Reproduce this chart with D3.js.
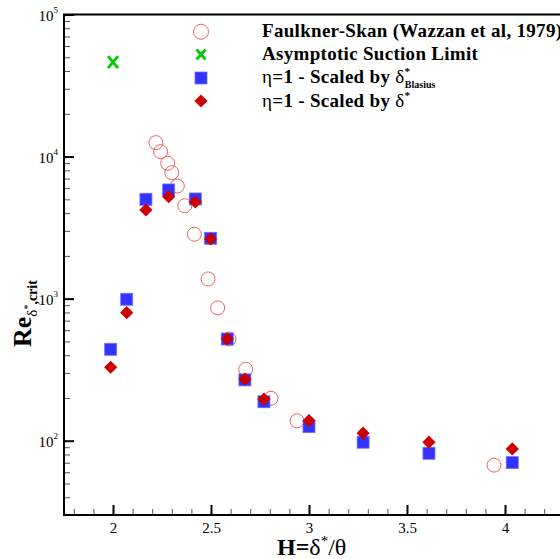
<!DOCTYPE html>
<html>
<head>
<meta charset="utf-8">
<script src="https://cdn.jsdelivr.net/npm/d3@7"></script>
<style>
  html, body { margin: 0; padding: 0; background: #fff; }
  svg { display: block; }
  text { font-family: "Liberation Serif", "Times New Roman", serif; }
</style>
</head>
<body>
<svg id="chart" width="560" height="559"></svg>
<script>
// ---- Data ----
// Faulkner-Skan (Wazzan et al, 1979)
const fsH  = [2.219, 2.243, 2.279, 2.300, 2.328, 2.366, 2.415, 2.485, 2.534, 2.592, 2.677, 2.806, 2.939, 3.944];
const fsRe = [12530, 10830, 8970, 7700, 6210, 4510, 2840, 1376, 861, 520, 318, 199, 138, 67.3];
// Asymptotic suction limit
const asH  = [2.0];
const asRe = [46279];
// eta=1 - scaled by delta*_Blasius
const blH  = [1.988, 2.070, 2.168, 2.284, 2.420, 2.498, 2.583, 2.673, 2.770, 3.000, 3.276, 3.612, 4.037];
const blRe = [440, 990, 5006, 5820, 5030, 2660, 520, 268, 188, 125.6, 97.6, 81.6, 70.1];
// eta=1 - scaled by delta*
const dsH  = [1.988, 2.070, 2.168, 2.284, 2.420, 2.498, 2.583, 2.673, 2.770, 3.000, 3.276, 3.612, 4.037];
const dsRe = [329, 797, 4210, 5220, 4790, 2630, 520, 271, 196, 138.6, 113, 97.6, 87.5];

const xTicks = [2, 2.5, 3, 3.5, 4];
const xTickLabels = ["2", "2.5", "3", "3.5", "4"];
const yTicks = [1e2, 1e3, 1e4, 1e5];
const yTickExp = ["2", "3", "4", "5"];

// ---- Layout ----
const svg = d3.select("#chart");
const L = 64, T = 14.5, B = 515;
const x = d3.scaleLinear().domain([1.75, 4.3]).range([L, L + 2.55 * 196]);
const y = d3.scaleLog().domain([30, 1e5]).range([B, T]);
const R = x(4.3);

// minor ticks
const xMinor = d3.range(18, 43).map(v => v / 10).filter(v => xTicks.indexOf(v) < 0);
const yMinor = [];
[10, 100, 1000, 10000].forEach(d => { for (let k = 2; k <= 9; k++) { const v = k * d; if (v >= 30 && v < 1e5) yMinor.push(v); } });

const gAxes = svg.append("g");
// x minor
gAxes.append("g").attr("transform", `translate(0,${B})`)
  .call(d3.axisBottom(x).tickValues(xMinor).tickSize(-6).tickFormat(""))
  .call(g => g.select(".domain").remove())
  .call(g => g.selectAll("line").attr("stroke", "#555").attr("stroke-width", 1));
// x major
gAxes.append("g").attr("transform", `translate(0,${B})`)
  .call(d3.axisBottom(x).tickValues(xTicks).tickSize(-10).tickPadding(7)
        .tickFormat((d, i) => xTickLabels[i]))
  .call(g => g.select(".domain").remove())
  .call(g => g.selectAll("line").attr("stroke", "#000").attr("stroke-width", 2))
  .call(g => g.selectAll("text").attr("font-family", "Liberation Serif, serif")
        .attr("font-size", 15).attr("fill", "#000"));
// y minor
gAxes.append("g").attr("transform", `translate(${L},0)`)
  .call(d3.axisLeft(y).tickValues(yMinor).tickSize(-6).tickFormat(""))
  .call(g => g.select(".domain").remove())
  .call(g => g.selectAll("line").attr("stroke", "#555").attr("stroke-width", 1));
// y major
gAxes.append("g").attr("transform", `translate(${L},0)`)
  .call(d3.axisLeft(y).tickValues(yTicks).tickSize(-10).tickFormat(""))
  .call(g => g.select(".domain").remove())
  .call(g => g.selectAll("line").attr("stroke", "#000").attr("stroke-width", 2));
// y labels 10^n
const yl = svg.append("g").selectAll("text").data(yTicks).join("text")
  .attr("x", 58).attr("y", d => y(d) + 6)
  .attr("text-anchor", "end").attr("font-size", 15).attr("fill", "#000");
yl.append("tspan").text("10");
yl.append("tspan").attr("font-size", 9).attr("dy", -8).text((d, i) => yTickExp[i]);

// frame
svg.append("rect").attr("x", L).attr("y", T).attr("width", R - L).attr("height", B - T)
  .attr("fill", "none").attr("stroke", "#000").attr("stroke-width", 2);

// ---- Marks ----
const marks = svg.append("g");
const fs = fsH.map((h, i) => ({ h, re: fsRe[i] }));
const as = asH.map((h, i) => ({ h, re: asRe[i] }));
const bl = blH.map((h, i) => ({ h, re: blRe[i] }));
const ds = dsH.map((h, i) => ({ h, re: dsRe[i] }));

const circleStyle = s => s.attr("r", 7).attr("fill", "none").attr("stroke", "#e86464").attr("stroke-width", 1);
const crossPath = "M-5,-6L5,6M5,-6L-5,6";
const crossStyle = s => s.attr("d", crossPath).attr("fill", "none").attr("stroke", "#00cc00").attr("stroke-width", 2.8);
const squareStyle = s => s.attr("x", -6).attr("y", -6).attr("width", 12).attr("height", 12)
  .attr("fill", "#3333ff").attr("stroke", "#7070ff").attr("stroke-width", 0.8);
const diamondPath = "M0,-6.6L6.6,0L0,6.6L-6.6,0Z";
const diamondStyle = s => s.attr("d", diamondPath).attr("fill", "#cc0000");

marks.append("g").selectAll("circle").data(fs).join("circle")
  .attr("cx", d => x(d.h)).attr("cy", d => y(d.re)).call(circleStyle);
marks.append("g").selectAll("path").data(as).join("path")
  .attr("transform", d => `translate(${x(d.h)},${y(d.re)})`).call(crossStyle);
marks.append("g").selectAll("rect").data(bl).join("rect")
  .attr("transform", d => `translate(${x(d.h)},${y(d.re)})`).call(squareStyle);
marks.append("g").selectAll("path").data(ds).join("path")
  .attr("transform", d => `translate(${x(d.h)},${y(d.re)})`).call(diamondStyle);

// ---- Legend ----
const lg = svg.append("g");
const lx = 201, tx = 262;
lg.append("circle").attr("cx", lx).attr("cy", 31.7).call(circleStyle).attr("r", 7.5);
lg.append("path").attr("transform", `translate(${lx},54.5)`).call(crossStyle).attr("d", "M-4.5,-5L4.5,5M4.5,-5L-4.5,5");
lg.append("rect").attr("transform", `translate(${lx},78)`).call(squareStyle);
lg.append("path").attr("transform", `translate(${lx},101)`).call(diamondStyle);

const lgText = (yy) => lg.append("text").attr("x", tx).attr("y", yy).attr("font-size", 19)
  .attr("font-weight", "bold").attr("letter-spacing", 0.3);
lgText(36.5).text("Faulkner-Skan (Wazzan et al, 1979)");
lgText(59.5).text("Asymptotic Suction Limit");
const t3 = lgText(83);
t3.append("tspan").attr("font-weight", "normal").text("η");
t3.append("tspan").text("=1 - Scaled by ");
t3.append("tspan").attr("font-weight", "normal").text("δ");
t3.append("tspan").attr("font-size", 11).attr("dy", -8).text("*");
t3.append("tspan").attr("font-size", 10).attr("letter-spacing", 0).attr("dx", -5.5).attr("dy", 13).text("Blasius");
const t4 = lgText(106.5);
t4.append("tspan").attr("font-weight", "normal").text("η");
t4.append("tspan").text("=1 - Scaled by ");
t4.append("tspan").attr("font-weight", "normal").text("δ");
t4.append("tspan").attr("font-size", 11).attr("dy", -8).text("*");

// ---- Axis titles ----
const xt = svg.append("text").attr("x", 277).attr("y", 555).attr("font-size", 24);
xt.append("tspan").attr("font-weight", "bold").text("H=");
xt.append("tspan").text("δ");
xt.append("tspan").attr("font-size", 15).attr("dy", -9).text("*");
xt.append("tspan").attr("dy", 9).text("/θ");

const ytl = svg.append("text").attr("transform", "translate(31,347) rotate(-90)").attr("font-size", 26);
ytl.append("tspan").attr("font-weight", "bold").text("Re");
ytl.append("tspan").attr("font-size", 15).attr("dy", 6).text("δ");
ytl.append("tspan").attr("font-size", 10).attr("dy", -6).text("*");
ytl.append("tspan").attr("font-size", 14).attr("font-weight", "bold").attr("dy", 6).text(",crit");
</script>
</body>
</html>
